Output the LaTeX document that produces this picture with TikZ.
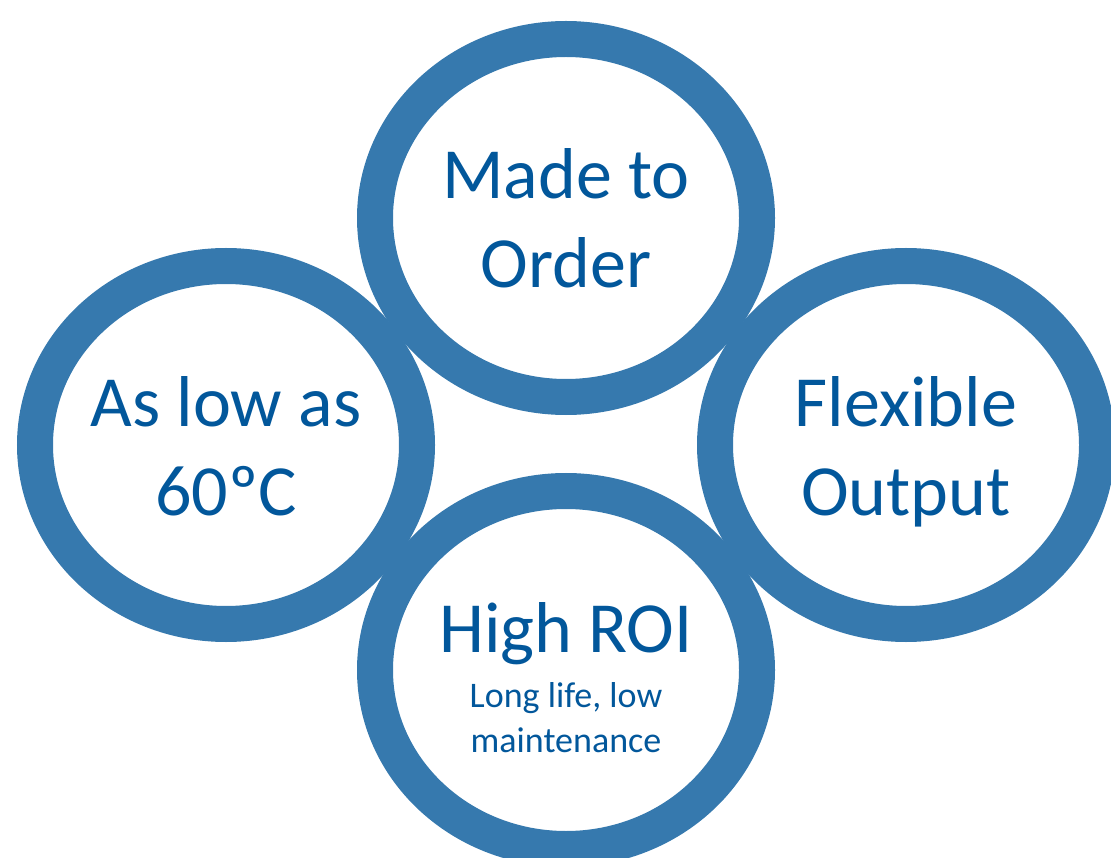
\documentclass[tikz,border=0pt]{standalone}
\usepackage{fontspec}
\setmainfont{Carlito}
\usetikzlibrary{shapes.geometric}
\definecolor{ringblue}{HTML}{3679AE}
\definecolor{textblue}{HTML}{02579B}
\begin{document}
\begin{tikzpicture}[x=1pt, y=-1pt,
	ring/.style={ellipse, draw=ringblue, line width=36pt, minimum width=382pt, minimum height=358pt, inner sep=0pt},
	bigtext/.style={font=\fontsize{72}{89}\selectfont, text=textblue, align=center, anchor=base},
	smalltext/.style={font=\fontsize{36}{45}\selectfont, text=textblue, align=center, anchor=base}]
	\useasboundingbox (0,0) rectangle (1111,858);
	% rings
	\node[ring] (order) at (566,218) {};
	\node[ring] (temp) at (226,445) {};
	\node[ring] (output) at (906,445) {};
	\node[ring] (roi) at (566,670) {};
	% texts
	\node[bigtext] (ordertext) at (566,288) {Made to\\Order};
	\node[bigtext] (temptext) at (226,515) {As low as\\60ºC};
	\node[bigtext] (outputtext) at (906,515) {Flexible\\Output};
	\node[bigtext] (roititle) at (566,652) {High ROI};
	\node[smalltext] (roisub) at (566,752) {Long life, low\\maintenance};
\end{tikzpicture}
\end{document}
